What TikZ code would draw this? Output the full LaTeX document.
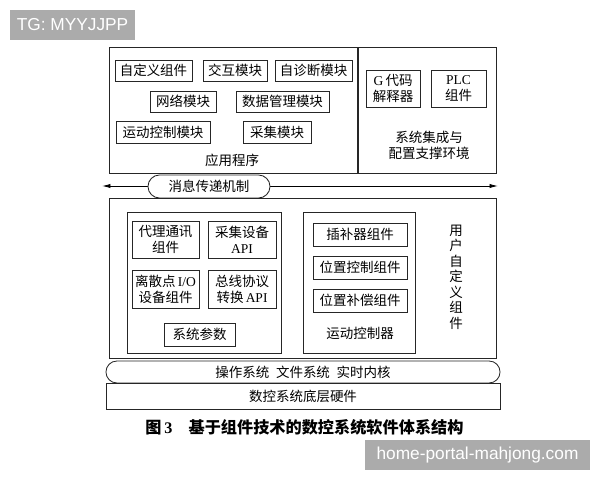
\documentclass[tikz,border=0pt]{standalone}
\usepackage{fontspec}
\setmainfont{Liberation Serif}
\newfontfamily\cjk{Noto Sans CJK SC}
\newfontfamily\lat{Liberation Serif}
\newfontfamily\wmfont{Liberation Sans}
\usetikzlibrary{arrows.meta,shapes.misc}

\tikzset{
  modbox/.style={draw=black!85,line width=0.6pt,inner sep=0pt,align=center,
    font=\cjk\fontsize{9.6}{11.5}\selectfont},
  groupbox/.style={draw=black!85,line width=0.7pt,inner sep=0pt},
  grouplabel/.style={inner sep=0pt,align=center,font=\cjk\fontsize{9.6}{11.5}\selectfont},
  watermark/.style={fill=black!33,text=white,inner sep=0pt,font=\wmfont\fontsize{12.3}{14}\selectfont}
}

\begin{document}
\begin{tikzpicture}[x=0.025cm,y=-0.025cm]
  \useasboundingbox (0,0) rectangle (600,480);

  % application layer
  \node [groupbox,minimum width=6.2cm,minimum height=3.125cm] (app) at (234,110.5) {};
  \node [groupbox,minimum width=3.45cm,minimum height=3.125cm] (env) at (427,110.5) {};
  \node [modbox,minimum width=1.925cm,minimum height=0.525cm] (zdy) at (153.5,70.5) {自定义组件};
  \node [modbox,minimum width=1.6cm,minimum height=0.525cm] (jh) at (235,70.5) {交互模块};
  \node [modbox,minimum width=1.925cm,minimum height=0.525cm] (zzd) at (313.5,70.5) {自诊断模块};
  \node [modbox,minimum width=1.65cm,minimum height=0.525cm] (wl) at (183,101.5) {网络模块};
  \node [modbox,minimum width=2.325cm,minimum height=0.525cm] (sjgl) at (282.5,101.5) {数据管理模块};
  \node [modbox,minimum width=2.35cm,minimum height=0.55cm] (ydkz) at (163,132) {运动控制模块};
  \node [modbox,minimum width=1.7cm,minimum height=0.55cm] (cj) at (277,132) {采集模块};
  \node [grouplabel] (applabel) at (232,160) {应用程序};

  \node [modbox,minimum width=1.35cm,minimum height=0.925cm] (gdm) at (393,88.5) {{\lat G}\,代码\\解释器};
  \node [modbox,minimum width=1.375cm,minimum height=0.925cm] (plc) at (458.5,88.5) {{\lat PLC}\\组件};
  \node [grouplabel] (envlabel) at (429,145) {系统集成与\\配置支撑环境};

  % message bus
  \coordinate (ml) at (102,186);
  \coordinate (mr) at (498,186);
  \draw [line width=0.6pt,{Latex[length=6pt,width=3pt]}-{Latex[length=6pt,width=3pt]}] (ml) -- (mr);
  \node [modbox,rounded rectangle,fill=white,minimum width=3.05cm,minimum height=0.575cm] (msg) at (209,186.5) {消息传递机制};

  % user components
  \node [groupbox,minimum width=9.65cm,minimum height=3.975cm] (user) at (303,278.5) {};
  \node [groupbox,minimum width=3.825cm,minimum height=3.5cm] (dev) at (204.5,283) {};
  \node [modbox,minimum width=1.675cm,minimum height=0.925cm] (dltx) at (165.5,239.5) {代理通讯\\组件};
  \node [modbox,minimum width=1.7cm,minimum height=0.925cm] (cjsb) at (242,239.5) {采集设备\\{\lat API}};
  \node [modbox,minimum width=1.675cm,minimum height=0.95cm] (lsd) at (165.5,289) {离散点\,{\lat I/O}\\设备组件};
  \node [modbox,minimum width=1.7cm,minimum height=0.95cm] (zxxy) at (242,289) {总线协议\\转换\,{\lat API}};
  \node [modbox,minimum width=1.775cm,minimum height=0.575cm] (xtcs) at (199.5,334.5) {系统参数};

  \node [groupbox,minimum width=2.775cm,minimum height=3.5cm] (mc) at (359.5,283) {};
  \node [modbox,minimum width=2.35cm,minimum height=0.575cm] (cbq) at (360,234.5) {插补器组件};
  \node [modbox,minimum width=2.35cm,minimum height=0.575cm] (wzkz) at (360,267.5) {位置控制组件};
  \node [modbox,minimum width=2.35cm,minimum height=0.575cm] (wzbc) at (360,300.5) {位置补偿组件};
  \node [grouplabel] (mclabel) at (360,333) {运动控制器};
  \node [grouplabel,font=\cjk\fontsize{9.6}{11}\selectfont] (userlabel) at (456,277) {用\\户\\自\\定\\义\\组\\件};

  % system layers
  \node [modbox,rounded rectangle,minimum width=9.85cm,minimum height=0.55cm] (os) at (303,372) {操作系统\enspace 文件系统\enspace 实时内核};
  \node [modbox,minimum width=9.85cm,minimum height=0.65cm] (hw) at (303,396) {数控系统底层硬件};

  \node [inner sep=0pt,font=\cjk\bfseries\fontsize{11.5}{13}\selectfont] (caption) at (304.5,427)
    {图\,{\lat\bfseries 3}\quad 基于组件技术的数控系统软件体系结构};

  % watermarks
  \node [watermark,minimum width=3.125cm,minimum height=0.75cm] (tg) at (72.5,25) {TG: MYYJJPP};
  \node [watermark,minimum width=5.625cm,minimum height=0.75cm] (site) at (477.5,455) {home-portal-mahjong.com};
\end{tikzpicture}
\end{document}
